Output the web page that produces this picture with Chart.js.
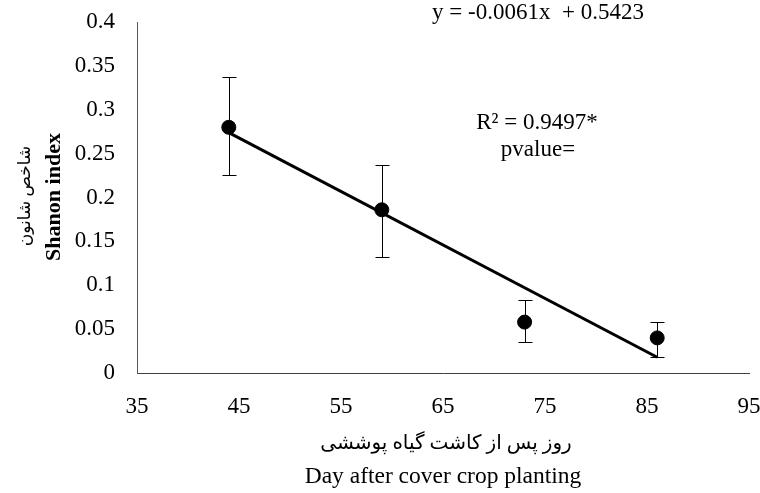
<!DOCTYPE html>
<html><head><meta charset="utf-8">
<script src="https://cdn.jsdelivr.net/npm/chart.js@4/dist/chart.umd.min.js"></script>
<style>html,body{margin:0;padding:0;background:#fff}#c{display:block}</style>
</head><body>
<canvas id="c" width="760" height="493"></canvas>
<script>
// ---- data ----
const days = [44, 59, 73, 86];
const shannon = [0.280, 0.186, 0.058, 0.040];
const errUpper = [0.337, 0.237, 0.083, 0.058];
const errLower = [0.226, 0.132, 0.035, 0.018];
const trendDays = [44, 86];
const trendValues = [0.274, 0.018];
const xTickValues = [35, 45, 55, 65, 75, 85, 95];
const yTickLabels = ['0', '0.05', '0.1', '0.15', '0.2', '0.25', '0.3', '0.35', '0.4'];
const equationText = 'y = -0.0061x  + 0.5423';
const r2Text = 'R\u00B2 = 0.9497*';
const pText = 'pvalue=';
const xTitleFa = 'روز پس از کاشت گیاه پوششی';
const xTitleEn = 'Day after cover crop planting';
const yTitleFa = 'شاخص شانون';
const yTitleEn = 'Shanon index';

const FONT = '"Liberation Serif", "Times New Roman", "DejaVu Serif", serif';
const FONT_FA = '"Liberation Serif", "DejaVu Sans", "Noto Sans", sans-serif';

const errorBars = {
  id: 'errorBars',
  afterDatasetsDraw(chart) {
    const ctx = chart.ctx, xs = chart.scales.x, ys = chart.scales.y;
    ctx.save();
    ctx.strokeStyle = '#000';
    ctx.lineWidth = 1;
    days.forEach((d, i) => {
      const x = Math.round(xs.getPixelForValue(d)) + 0.5;
      const yt = Math.round(ys.getPixelForValue(errUpper[i])) + 0.5;
      const yb = Math.round(ys.getPixelForValue(errLower[i])) + 0.5;
      ctx.beginPath();
      ctx.moveTo(x, yt); ctx.lineTo(x, yb);
      ctx.moveTo(x - 7, yt); ctx.lineTo(x + 7, yt);
      ctx.moveTo(x - 7, yb); ctx.lineTo(x + 7, yb);
      ctx.stroke();
    });
    ctx.restore();
  }
};

const texts = {
  id: 'texts',
  afterDraw(chart) {
    const ctx = chart.ctx, area = chart.chartArea;
    const cx = (area.left + area.right) / 2;
    ctx.save();
    ctx.fillStyle = '#000';
    ctx.textAlign = 'center';
    ctx.textBaseline = 'middle';
    ctx.font = '23px ' + FONT;
    ctx.fillText(equationText, 538, 13);
    ctx.fillText(r2Text, 537, 123);
    ctx.fillText(pText, 538, 150);
    ctx.font = '23.5px ' + FONT;
    ctx.fillText(xTitleEn, cx, 477);
    ctx.font = '20px ' + FONT_FA;
    ctx.fillText(xTitleFa, cx + 3, 444);
    // y titles
    ctx.save();
    ctx.translate(54, 197);
    ctx.rotate(-Math.PI / 2);
    ctx.font = 'bold 22px ' + FONT;
    ctx.fillText(yTitleEn, 0, 0);
    ctx.restore();
    ctx.save();
    ctx.translate(26, 196);
    ctx.rotate(-Math.PI / 2);
    ctx.font = '17px ' + FONT_FA;
    ctx.fillText(yTitleFa, 0, 0);
    ctx.restore();
    ctx.restore();
  }
};

new Chart(document.getElementById('c'), {
  type: 'scatter',
  data: {
    datasets: [
      {
        type: 'line',
        data: trendDays.map((d, i) => ({x: d, y: trendValues[i]})),
        borderColor: '#000',
        borderWidth: 3,
        pointRadius: 0,
        fill: false,
        order: 2
      },
      {
        data: days.map((d, i) => ({x: d, y: shannon[i]})),
        backgroundColor: '#000',
        borderColor: '#000',
        pointRadius: 7,
        pointHoverRadius: 7,
        order: 1
      }
    ]
  },
  options: {
    responsive: false,
    devicePixelRatio: 1,
    animation: false,
    layout: { padding: { top: 0, right: 0, left: 0, bottom: 0 } },
    plugins: { legend: { display: false }, tooltip: { enabled: false } },
    scales: {
      x: {
        type: 'linear', min: 35, max: 95,
        afterBuildTicks(scale) { scale.ticks = xTickValues.map(v => ({value: v})); },
        afterFit(scale) { scale.height = 120; scale.paddingRight = 11; },
        grid: { display: false },
        border: { display: true, color: '#404040', width: 1 },
        ticks: { color: '#000', font: { family: FONT, size: 23 }, padding: 12, maxRotation: 0 }
      },
      y: {
        type: 'linear', min: 0, max: 0.4,
        ticks: {
          stepSize: 0.05, color: '#000', font: { family: FONT, size: 23 }, padding: 14,
          callback: (v, i) => yTickLabels[i]
        },
        afterFit(scale) { scale.width = 137; scale.paddingTop = 22; },
        grid: { display: false },
        border: { display: true, color: '#595959', width: 1 }
      }
    }
  },
  plugins: [errorBars, texts]
});
</script>
</body></html>
